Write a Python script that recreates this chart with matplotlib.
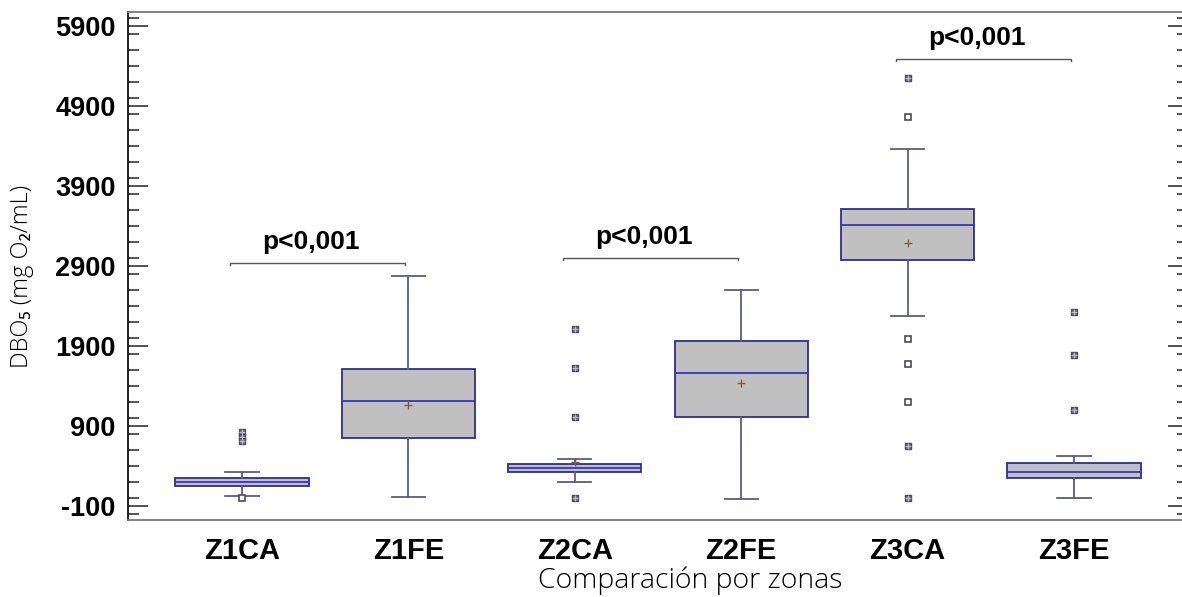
import matplotlib.pyplot as plt
from matplotlib.ticker import MultipleLocator

plt.rcParams['axes.unicode_minus'] = False

nan = float('nan')

# data (mg O2/mL)
groups = ['Z1CA', 'Z1FE', 'Z2CA', 'Z2FE', 'Z3CA', 'Z3FE']
q1 = [150, 750, 325, 1012, 2975, 246]
med = [200, 1212, 375, 1562, 3412, 321]
q3 = [250, 1612, 425, 1962, 3612, 437]
whis_lo = [25, 12, 200, -12, 2275, 0]
whis_hi = [325, 2775, 487, 2600, 4362, 529]
# mean marker not visible for Z1CA and Z3FE
means = [nan, 1162, 450, 1437, 3187, nan]

# outliers: far (filled) and near (open)
far_out = [[825, 765, 715], [], [2112, 1625, 1012, 0], [], [5250, 646, 4], [2325, 1787, 1100]]
near_out = [[0], [], [], [], [4762, 1983, 1671, 1200], []]

# significance brackets: (from group, to group, height)
brackets = [(0, 1, 2937), (2, 3, 3000), (4, 5, 5487)]
p_text = 'p<0,001'

positions = list(range(1, len(groups) + 1))

fig = plt.figure(figsize=(11.82, 5.97), dpi=100)
ax = fig.add_axes([128 / 1182, 77 / 597, 1060 / 1182, 508 / 597])

stats = []
for i in range(len(groups)):
    stats.append({'q1': q1[i], 'med': med[i], 'q3': q3[i], 'whislo': whis_lo[i],
                  'whishi': whis_hi[i], 'mean': means[i], 'fliers': []})

ax.bxp(stats, positions=positions, widths=0.8, showmeans=True, showfliers=False,
       patch_artist=True,
       boxprops=dict(facecolor='#c0c0c0', edgecolor='#2e2e8e', linewidth=1.3),
       medianprops=dict(color='#3535c8', linewidth=1.3),
       whiskerprops=dict(color='#5c5c86', linewidth=1.3),
       capprops=dict(color='#5c5c86', linewidth=1.3),
       capwidths=0.2,
       meanprops=dict(marker='+', markeredgecolor='#8b5a3c', markersize=6, markeredgewidth=1))

for i, pos in enumerate(positions):
    if far_out[i]:
        ax.plot([pos] * len(far_out[i]), far_out[i], 's', ms=5, mfc='#7a7a8a',
                mec='#4a4a5e', mew=1, ls='none')
        ax.plot([pos] * len(far_out[i]), far_out[i], '+', ms=4, mec='#c8c8d0',
                mew=0.6, ls='none')
    if near_out[i]:
        ax.plot([pos] * len(near_out[i]), near_out[i], 's', ms=5, mfc='white',
                mec='#4a4a5e', mew=1.2, ls='none')

for a, b, h in brackets:
    x0 = positions[a] - 0.07
    x1 = positions[b] - 0.02
    ax.plot([x0, x0, x1, x1], [h - 25, h, h, h - 25], color='#555555', lw=1)
    ax.text((x0 + x1) / 2 - 0.04, h + 110, p_text, ha='center', va='bottom',
            fontsize=19, fontweight='bold', family='Liberation Sans')

ax.set_xlim(0.315, 6.685)
ax.set_ylim(-275, 6075)
ax.set_yticks(range(-100, 6000, 1000))
ax.yaxis.set_minor_locator(MultipleLocator(200))
ax.set_xticks(positions)
ax.set_xticklabels(groups)

ax.tick_params(axis='y', which='major', direction='in', length=14.4, width=1.2,
               color='#333333', left=True, right=True, pad=9)
ax.tick_params(axis='y', which='minor', direction='in', length=7.9, width=1.2,
               color='#333333', left=True, right=True)
ax.tick_params(axis='x', length=0, pad=12)
for lab in ax.get_yticklabels():
    lab.set_fontsize(19.5)
    lab.set_fontweight('bold')
    lab.set_family('Liberation Sans')
for lab in ax.get_xticklabels():
    lab.set_fontsize(21)
    lab.set_fontweight('bold')
    lab.set_family('Liberation Sans')

ax.spines['left'].set_color('#111111')
ax.spines['left'].set_linewidth(1.3)
for s in ['top', 'bottom', 'right']:
    ax.spines[s].set_color('#777777')
    ax.spines[s].set_linewidth(1.3)

label_fonts = ['Open Sans', 'Noto Sans', 'DejaVu Sans']
fig.text(22 / 1182, 1 - 276 / 597, 'DBO₅ (mg O₂/mL)', rotation=90, ha='center',
         va='center', fontsize=17, fontweight='light', family=label_fonts)
fig.text(690 / 1182, 1 - 581 / 597, 'Comparación por zonas', ha='center', va='center',
         fontsize=20.5, fontweight='light', family=label_fonts)

fig.savefig('out.png', dpi=100)
